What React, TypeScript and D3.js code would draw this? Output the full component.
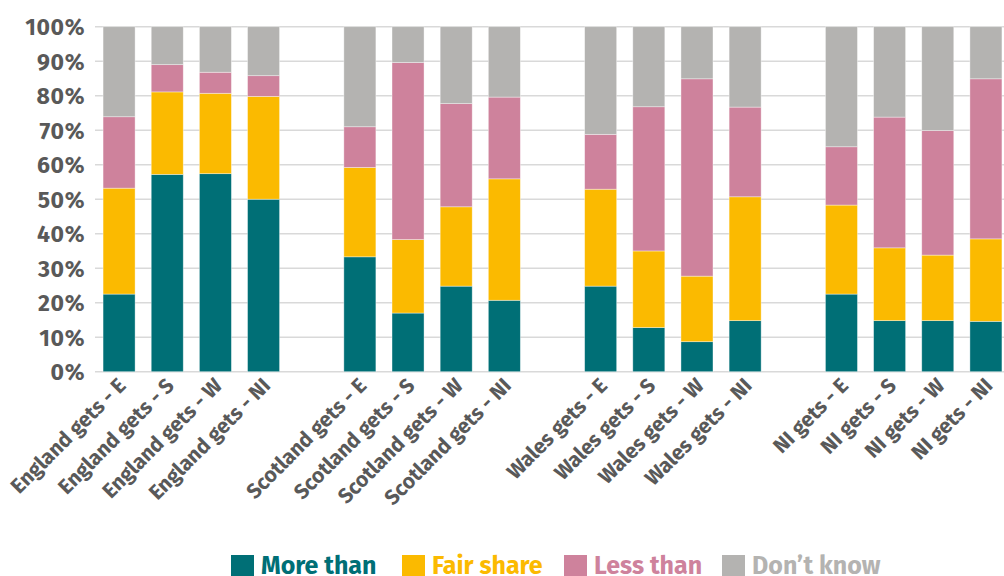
import React from "react";
import * as d3 from "d3";

const categories = [
  "England gets - E", "England gets - S", "England gets - W", "England gets - NI", "",
  "Scotland gets - E", "Scotland gets - S", "Scotland gets - W", "Scotland gets - NI", " ",
  "Wales gets - E", "Wales gets - S", "Wales gets - W", "Wales gets - NI", "  ",
  "NI gets - E", "NI gets - S", "NI gets - W", "NI gets - NI",
];
const moreThan = [22.5, 57.2, 57.4, 50, 0, 33.3, 17, 24.8, 20.7, 0, 24.8, 12.8, 8.7, 14.8, 0, 22.5, 14.8, 14.8, 14.6];
const fairShare = [30.7, 23.9, 23.3, 29.8, 0, 25.9, 21.3, 23, 35.2, 0, 28.1, 22.2, 19, 35.9, 0, 25.8, 21.1, 19, 23.9];
const lessThan = [20.7, 7.9, 6.1, 6, 0, 11.8, 51.3, 29.9, 23.7, 0, 15.9, 41.8, 57.2, 26, 0, 16.9, 37.9, 36.1, 46.4];
const dontKnow = [26.1, 11, 13.2, 14.2, 0, 29, 10.4, 22.3, 20.4, 0, 31.2, 23.2, 15.1, 23.3, 0, 34.8, 26.2, 30.1, 15.1];
const seriesNames = ["More than", "Fair share", "Less than", "Don\u2019t know"];
const seriesColors = ["#006F76", "#FBBA00", "#CE829C", "#B4B3B1"];
const yTicks = [0, 10, 20, 30, 40, 50, 60, 70, 80, 90, 100];

const W = 1004, H = 576;
const FONT = "'Fira Sans', 'Open Sans', sans-serif";

export default function App() {
  const x = d3.scaleBand<string>().domain(categories).range([95, 1010]).paddingInner(0.335).paddingOuter(0.1675);
  const y = d3.scaleLinear().domain([0, 100]).range([371.7, 26.7]);
  const rows = categories.map((c, i) => ({ cat: c, s0: moreThan[i], s1: fairShare[i], s2: lessThan[i], s3: dontKnow[i] }));
  const stack = d3.stack<any>().keys(["s0", "s1", "s2", "s3"]);
  const layers = stack(rows);
  const legendX = [231, 402, 564, 722];

  return (
    <svg width={W} height={H} style={{ position: "absolute", left: 0, top: 0, fontFamily: FONT }}>
      <rect width={W} height={H} fill="#fff" />
      {yTicks.map((t) => (
        <g key={t}>
          <line x1={95} x2={W} y1={y(t)} y2={y(t)} stroke="#D9D9D9" strokeWidth={1.5} />
          <text x={85} y={y(t)} dy="0.37em" textAnchor="end" fontSize={23} fontWeight={700} letterSpacing={0.6} fill="#595959">
            {t}%
          </text>
        </g>
      ))}
      {layers.map((layer, li) => (
        <g key={li}>
          {layer.map((d, i) =>
            categories[i].trim() === "" ? null : (
              <rect
                key={i}
                x={x(categories[i])}
                width={x.bandwidth()}
                y={y(d[1])}
                height={y(d[0]) - y(d[1])}
                fill={seriesColors[li]}
                stroke="#ffffff"
                strokeOpacity={0.5}
                strokeWidth={0.75}
              />
            )
          )}
        </g>
      ))}
      {categories.map((c, i) =>
        c.trim() === "" ? null : (
          <text
            key={i}
            transform={`translate(${(x(c) as number) + x.bandwidth() / 2 + 8},${387}) rotate(-45)`}
            textAnchor="end"
            fontSize={21}
            fontWeight={700}
            fill="#595959"
          >
            {c}
          </text>
        )
      )}
      {seriesNames.map((n, i) => (
        <g key={n}>
          <rect x={legendX[i]} y={555} width={23} height={22} fill={seriesColors[i]} />
          <text x={legendX[i] + 30} y={574} fontSize={25} fontWeight={700} fill={seriesColors[i]}>
            {n}
          </text>
        </g>
      ))}
    </svg>
  );
}
